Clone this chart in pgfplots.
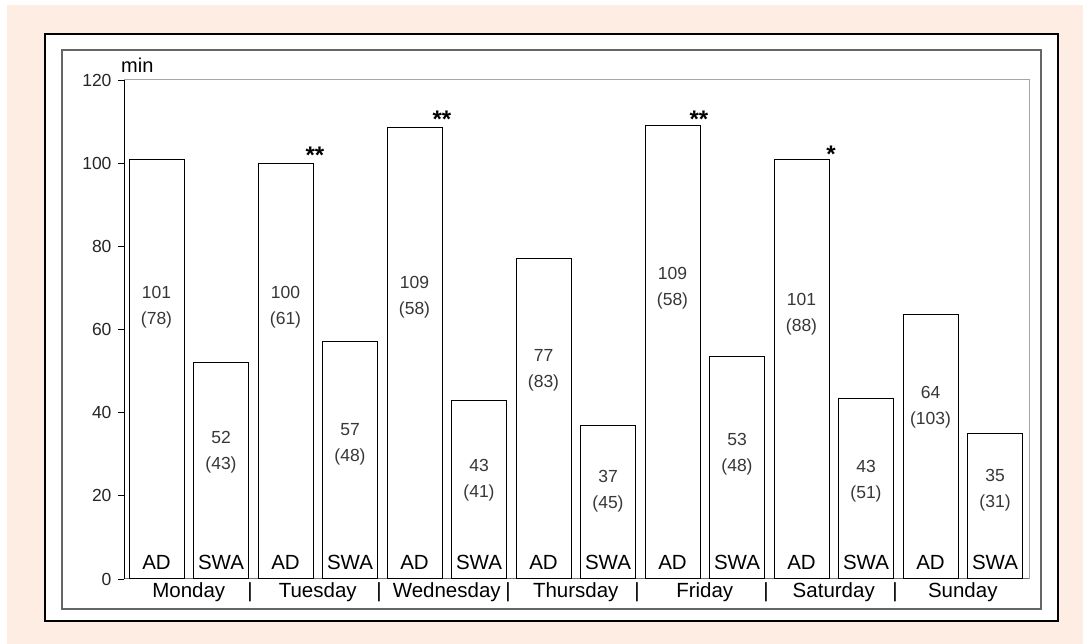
\documentclass[border=0pt]{standalone}
\usepackage{pgfplots}
\pgfplotsset{compat=1.18}
\usepackage{fontspec}
\setmainfont{Liberation Sans}
\definecolor{peach}{RGB}{253,237,227}
\definecolor{valgray}{RGB}{55,55,55}

\pgfplotstableread{
x  y
0  101
1  52
2  100
3  57
4  108.5
5  43
6  77
7  37
8  109
9  53.5
10 101
11 43.5
12 63.5
13 35
}\minutes

\begin{document}
\begin{tikzpicture}
  \useasboundingbox (0,0) rectangle (1083pt,644pt);
  \fill[peach] (7pt,0) rectangle (1083pt,639pt);
  \fill[white] (45pt,23pt) rectangle (1058pt,610pt);
  \draw[line width=2pt,black] (45pt,23pt) rectangle (1058pt,610pt);
  \draw[line width=1.5pt,black!60] (62pt,35pt) rectangle (1041pt,594pt);

  \begin{axis}[
    at={(124pt,65pt)}, anchor=south west,
    scale only axis, width=905pt, height=499pt,
    xmin=-0.504, xmax=13.527,
    ymin=0, ymax=120,
    axis x line=bottom, axis y line=left,
    axis line style={-},
    x axis line style={draw=black!55, line width=1pt},
    y axis line style={draw=black, line width=1pt},
    xtick=\empty,
    ytick={0,20,...,120},
    tick align=outside,
    major tick length=6pt,
    y tick style={black, line width=0.8pt},
    /pgf/number format/assume math mode=true,
    yticklabel style={font=\fontsize{17.5}{20}\selectfont, text=black!85, xshift=-3pt},
    clip=false,
  ]
    \draw[black!35, line width=1pt] (rel axis cs:0,1) -- (rel axis cs:1,1) -- (rel axis cs:1,0);

    \addplot[ybar, bar width=0.853, bar shift=0pt, fill=white, draw=black, line width=1pt]
      table[x=x, y=y] {\minutes};

    % values (median) inside the bars
    \begin{scope}[every node/.style={align=center, text=valgray, inner sep=0pt,
        font=\fontsize{17.5}{26}\selectfont}]
      \node at (axis cs:0,65.4)  {101\\(78)};
      \node at (axis cs:1,30.5)  {52\\(43)};
      \node at (axis cs:2,65.4)  {100\\(61)};
      \node at (axis cs:3,32.5)  {57\\(48)};
      \node at (axis cs:4,67.8)  {109\\(58)};
      \node at (axis cs:5,23.8)  {43\\(41)};
      \node at (axis cs:6,50.3)  {77\\(83)};
      \node at (axis cs:7,21.2)  {37\\(45)};
      \node at (axis cs:8,70)    {109\\(58)};
      \node at (axis cs:9,30)    {53\\(48)};
      \node at (axis cs:10,63.7) {101\\(88)};
      \node at (axis cs:11,23.6) {43\\(51)};
      \node at (axis cs:12,41.4) {64\\(103)};
      \node at (axis cs:13,21.4) {35\\(31)};
    \end{scope}

    % group names at the foot of the bars
    \begin{scope}[every node/.style={anchor=base, inner sep=0pt, font=\fontsize{20.5}{24}\selectfont}]
      \node at (axis cs:0,2.2) {AD};   \node at (axis cs:1,2.2) {SWA};
      \node at (axis cs:2,2.2) {AD};   \node at (axis cs:3,2.2) {SWA};
      \node at (axis cs:4,2.2) {AD};   \node at (axis cs:5,2.2) {SWA};
      \node at (axis cs:6,2.2) {AD};   \node at (axis cs:7,2.2) {SWA};
      \node at (axis cs:8,2.2) {AD};   \node at (axis cs:9,2.2) {SWA};
      \node at (axis cs:10,2.2) {AD};  \node at (axis cs:11,2.2) {SWA};
      \node at (axis cs:12,2.2) {AD};  \node at (axis cs:13,2.2) {SWA};
    \end{scope}

    % days and separators
    \begin{scope}[every node/.style={anchor=base, inner sep=0pt, font=\fontsize{20.5}{24}\selectfont}]
      \node at (axis cs:0.5,-4.33)  {Monday};
      \node at (axis cs:2.5,-4.33)  {Tuesday};
      \node at (axis cs:4.5,-4.33)  {Wednesday};
      \node at (axis cs:6.5,-4.33)  {Thursday};
      \node at (axis cs:8.5,-4.33)  {Friday};
      \node at (axis cs:10.5,-4.33) {Saturday};
      \node at (axis cs:12.5,-4.33) {Sunday};
      \node at (axis cs:1.45,-4.33)  {|};
      \node at (axis cs:3.45,-4.33)  {|};
      \node at (axis cs:5.45,-4.33)  {|};
      \node at (axis cs:7.45,-4.33)  {|};
      \node at (axis cs:9.45,-4.33)  {|};
      \node at (axis cs:11.45,-4.33) {|};
    \end{scope}

    % significance marks
    \begin{scope}[every node/.style={anchor=base, inner sep=0pt, font=\fontsize{24}{28}\selectfont\bfseries}]
      \node at (axis cs:2.457,99.9) {**};
      \node at (axis cs:4.426,108.5) {**};
      \node at (axis cs:8.41,108.5)  {**};
      \node at (axis cs:10.457,100.1)  {*};
    \end{scope}

    \node[anchor=base west, inner sep=0pt, font=\fontsize{20}{24}\selectfont]
      at (axis cs:-0.55,121.9) {min};
  \end{axis}
\end{tikzpicture}
\end{document}
